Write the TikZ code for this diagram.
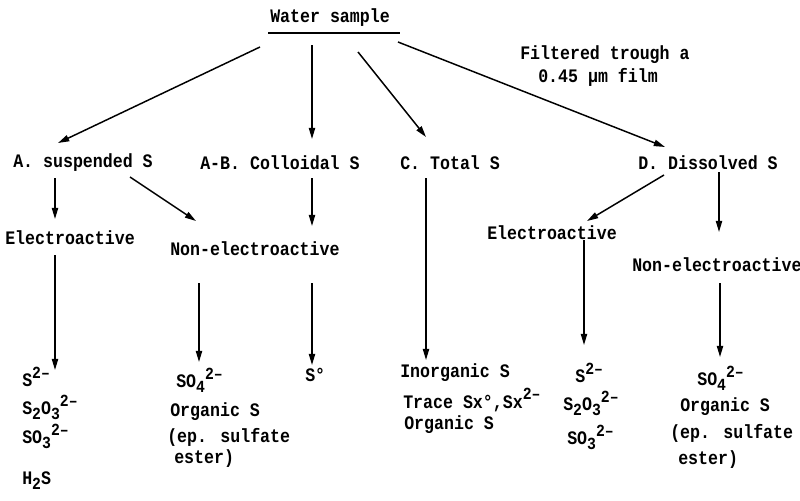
\documentclass[tikz,border=0pt]{standalone}
\usepackage{fontspec}
\usepackage{graphicx}
\newfontfamily\tw{Liberation Mono}
\usetikzlibrary{arrows.meta}
\newcommand\mysub[1]{\raisebox{-0.5ex}{\fontsize{10.5}{10}\selectfont #1}}
\newcommand\mysup[1]{\raisebox{0.8ex}{\fontsize{10.5}{10}\selectfont #1}}
\newcommand\tl[1]{\scalebox{1}[1.15]{#1}}
\begin{document}
\begin{tikzpicture}[x=0.025cm,y=-0.025cm,
  lbl/.style={font=\tw\bfseries\fontsize{11.8}{14}\selectfont, inner sep=0pt, anchor=west},
  arr/.style={line width=1.05pt, -{Triangle[length=8pt,width=4.5pt]}},
  rule/.style={line width=1.1pt}]
\useasboundingbox[fill=white] (0,0) rectangle (800,500);
% top
\node[lbl] (w) at (270,18) {\tl{Water sample}};
\coordinate (ul1) at (268,33); \coordinate (ul2) at (400,33);
\draw[rule] (ul1) -- (ul2);
\node[lbl] (f1) at (520,55) {\tl{Filtered trough a}};
\node[lbl] (f2) at (538,77) {\tl{0.45 μm film}};
% level 2
\node[lbl] (aS) at (13,163) {\tl{A. suspended S}};
\node[lbl] (abS) at (200,163) {\tl{A-B. Colloidal S}};
\node[lbl] (cS) at (400,163) {\tl{C. Total S}};
\node[lbl] (dS) at (638,163) {\tl{D. Dissolved S}};
% level 3
\node[lbl] (eL) at (5,238) {\tl{Electroactive}};
\node[lbl] (nL) at (170,249) {\tl{Non-electroactive}};
\node[lbl] (eR) at (487,233) {\tl{Electroactive}};
\node[lbl] (nR) at (632,265) {\tl{Non-electroactive}};
% bottom left column
\node[lbl] (l1) at (22,377) {\tl{S\mysup{2–}}};
\node[lbl] (l2) at (22,407) {\tl{S\mysub{2}O\mysub{3}\mysup{2–}}};
\node[lbl] (l3) at (22,436) {\tl{SO\mysub{3}\mysup{2–}}};
\node[lbl] (l4) at (22,481) {\tl{H\mysub{2}S}};
% middle-left
\node[lbl] (m1) at (176,380) {\tl{SO\mysub{4}\mysup{2–}}};
\node[lbl] (m2) at (170,412) {\tl{Organic S}};
\node[lbl] (m3) at (167,437) {\tl{(ep. sulfate}};
\node[lbl] (m4) at (174,459) {\tl{ester)}};
% colloidal
\node[lbl] (s0) at (305,375) {\tl{S°}};
% total
\node[lbl] (t1) at (400,373) {\tl{Inorganic S}};
\node[lbl] (t2) at (403,400) {\tl{Trace Sx°,Sx\mysup{2–}}};
\node[lbl] (t3) at (404,425) {\tl{Organic S}};
% right electroactive
\node[lbl] (r1) at (575,373) {\tl{S\mysup{2–}}};
\node[lbl] (r2) at (563,403) {\tl{S\mysub{2}O\mysub{3}\mysup{2–}}};
\node[lbl] (r3) at (567,437) {\tl{SO\mysub{3}\mysup{2–}}};
% right non-electroactive
\node[lbl] (q1) at (697,378) {\tl{SO\mysub{4}\mysup{2–}}};
\node[lbl] (q2) at (680,407) {\tl{Organic S}};
\node[lbl] (q3) at (670,433) {\tl{(ep. sulfate}};
\node[lbl] (q4) at (678,460) {\tl{ester)}};
% connector end points
\coordinate (wa) at (260,47);  \coordinate (ta) at (58,143);
\coordinate (wb) at (312,45);  \coordinate (tb) at (312,139);
\coordinate (wc) at (358,52);  \coordinate (tc) at (426,137);
\coordinate (wd) at (398,42);  \coordinate (td) at (665,147);
\coordinate (a1) at (55,178);  \coordinate (a1e) at (55,219);
\coordinate (a2) at (130,177); \coordinate (a2e) at (196,221);
\coordinate (b1) at (312,178); \coordinate (b1e) at (312,226);
\coordinate (c1) at (426,178); \coordinate (c1e) at (426,360);
\coordinate (d1) at (664,175); \coordinate (d1e) at (587,221);
\coordinate (d2) at (719,172); \coordinate (d2e) at (719,232);
\coordinate (e1) at (55,255);  \coordinate (e1e) at (55,370);
\coordinate (n1) at (199,283); \coordinate (n1e) at (199,362);
\coordinate (s1) at (312,283); \coordinate (s1e) at (312,365);
\coordinate (e2) at (584,240); \coordinate (e2e) at (584,345);
\coordinate (n2) at (720,283); \coordinate (n2e) at (720,357);
\draw[arr] (wa) -- (ta);
\draw[arr] (wb) -- (tb);
\draw[arr] (wc) -- (tc);
\draw[arr] (wd) -- (td);
\draw[arr] (a1) -- (a1e);
\draw[arr] (a2) -- (a2e);
\draw[arr] (b1) -- (b1e);
\draw[arr] (c1) -- (c1e);
\draw[arr] (d1) -- (d1e);
\draw[arr] (d2) -- (d2e);
\draw[arr] (e1) -- (e1e);
\draw[arr] (n1) -- (n1e);
\draw[arr] (s1) -- (s1e);
\draw[arr] (e2) -- (e2e);
\draw[arr] (n2) -- (n2e);
\end{tikzpicture}
\end{document}
